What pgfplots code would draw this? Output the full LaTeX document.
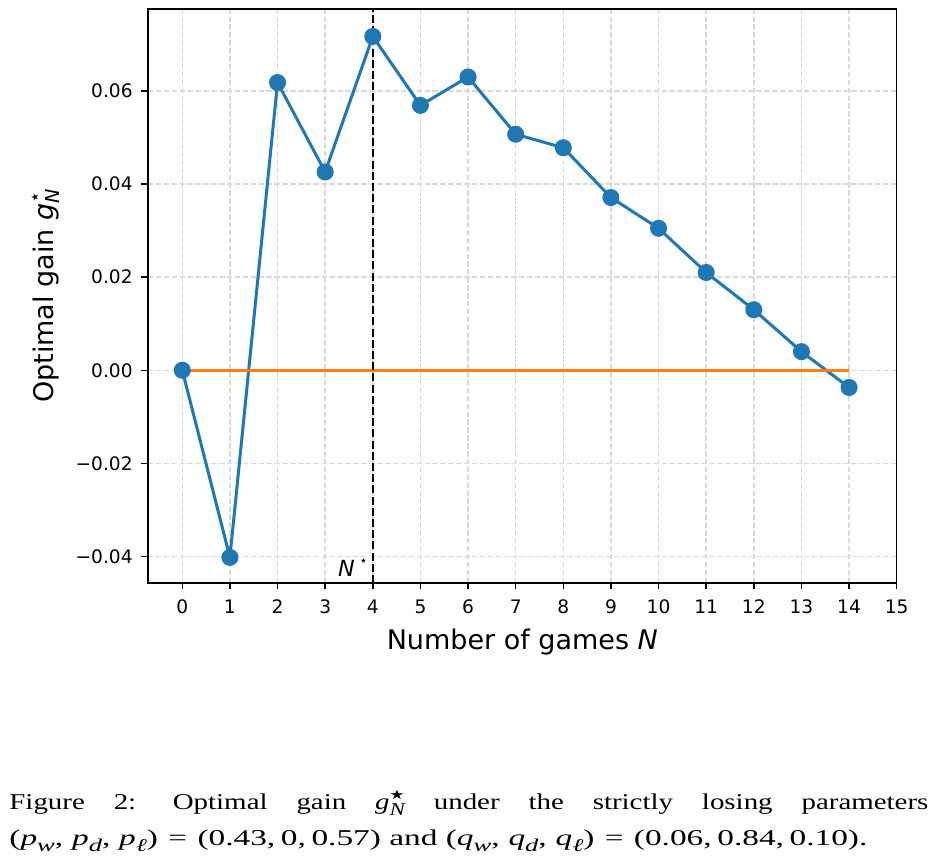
\documentclass[border=0pt]{standalone}
\usepackage{fontspec}
\setmainfont{Liberation Serif}
\newfontfamily\dejavu{DejaVu Sans}
\usepackage{graphicx}
\usepackage{pgfplots}
\pgfplotsset{compat=1.18}
\definecolor{mplblue}{HTML}{1F77B4}
\definecolor{mplorange}{HTML}{FF7F0E}
\newcommand\subsz{\fontsize{9.6}{9.6}\selectfont}
\newcommand\csub[1]{\raisebox{-0.24em}{\fontsize{9}{9}\selectfont\itshape #1}}
\newcommand\tm{,\kern3pt}
\newcommand\cm{,\kern1.9pt}
\newcommand\ceq{\kern3.5pt=\kern3.5pt}
\frenchspacing
\begin{document}
\begin{tikzpicture}
\useasboundingbox (-74pt,-139.5pt) rectangle (395pt,291.5pt);
\begin{axis}[
  scale only axis, width=374.35pt, height=287pt,
  xmin=-0.72, xmax=15, ymin=-0.0457, ymax=0.0776,
  scaled x ticks=false, scaled y ticks=false,
  xtick={0,1,2,3,4,5,6,7,8,9,10,11,12,13,14,15},
  xticklabels={0,1,2,3,4,5,6,7,8,9,10,11,12,13,14,15},
  ytick={-0.04,-0.02,0,0.02,0.04,0.06},
  yticklabels={−0.04,−0.02,0.00,0.02,0.04,0.06},
  xtick pos=bottom, ytick pos=left,
  tick align=outside, major tick length=3.25pt,
  tick style={black, line width=0.74pt},
  axis line style={line width=0.74pt},
  grid=major,
  major grid style={black!15, line width=0.7pt, dash pattern=on 2.75pt off 1.2pt},
  tick label style={font=\dejavu\fontsize{9.3}{9.3}\selectfont},
  xticklabel style={anchor=north, inner sep=0pt, yshift=-4.9pt},
  yticklabel style={anchor=east, inner sep=0pt, xshift=-4.25pt},
  label style={font=\dejavu\fontsize{13.5}{13.5}\selectfont},
  xlabel={Number of games {\itshape N}},
  xlabel style={at={(axis description cs:0.5,-0.115)}, anchor=base, inner sep=0pt},
  ylabel={Optimal gain {\itshape g}\rlap{\raisebox{0.42em}{\subsz ⋆}}\raisebox{-0.22em}{\subsz\itshape N}},
  ylabel style={at={(axis description cs:-0.1268,0.5)}, anchor=base, rotate=0, inner sep=0pt},
  clip=false,
]
\addplot[mplblue, line width=1.5pt, mark=*, mark size=3.5pt, mark options={solid, fill=mplblue, draw=mplblue}] coordinates {
(0,0) (1,-0.0402) (2,0.0618) (3,0.0426) (4,0.0717) (5,0.0569) (6,0.0630) (7,0.0507)
(8,0.0478) (9,0.0371) (10,0.0305) (11,0.0210) (12,0.0130) (13,0.0040) (14,-0.0037)};
\addplot[mplorange, line width=1.5pt] coordinates {(0,0) (14,0)};
\addplot[black, line width=0.95pt, dash pattern=on 4pt off 1.6pt] coordinates {(4,-0.0457) (4,0.0776)};
\node[anchor=base east, inner sep=0pt, font=\dejavu\fontsize{11.1}{11.1}\selectfont]
  at (axis cs:4,-0.0457) [xshift=-2.3pt, yshift=3pt] {{\itshape N}\hspace{2.2pt}\raisebox{0.5em}{\fontsize{7}{7}\selectfont ⋆}};
\end{axis}
\node[anchor=base west, inner sep=0pt] at (-69.5pt,-113.5pt)
  {\scalebox{1.28}[1]{\fontsize{11.3}{18}\selectfont\makebox[359pt][s]{Figure 2:\hspace{3pt} Optimal gain \textit{g}\rlap{\raisebox{0.45em}{\dejavu\fontsize{6.5}{6.5}\selectfont ★}}\csub{N} under the strictly losing parameters}}};
\node[anchor=base west, inner sep=0pt] at (-69.5pt,-131.5pt)
  {\resizebox{429pt}{\height}{\fontsize{11.3}{18}\selectfont (\textit{p}\csub{w}\tm\textit{p}\csub{d}\tm\textit{p}\csub{ℓ})\ceq(0.43\cm0\cm0.57) and (\textit{q}\csub{w}\tm\textit{q}\csub{d}\tm\textit{q}\csub{ℓ})\ceq(0.06\cm0.84\cm0.10).}};
\end{tikzpicture}
\end{document}
